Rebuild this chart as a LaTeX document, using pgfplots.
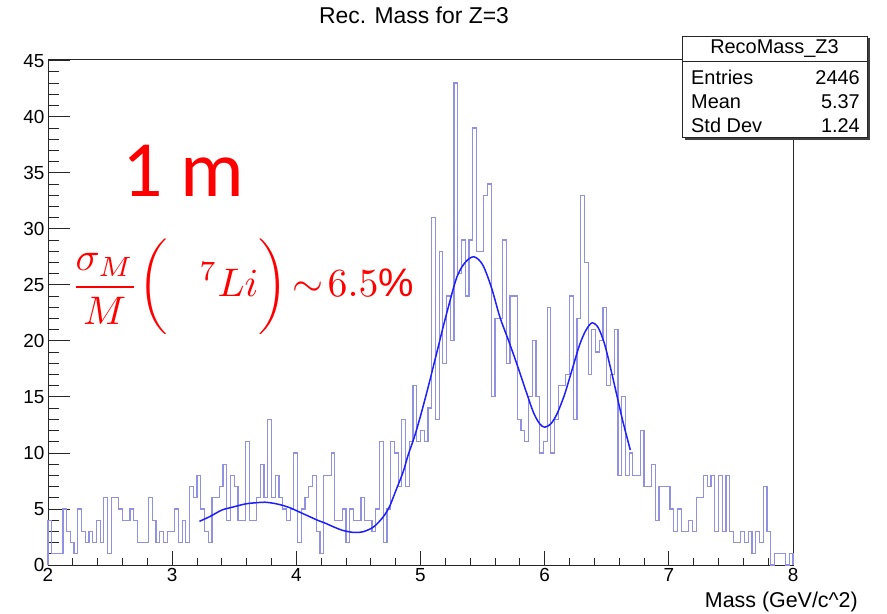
\documentclass[border=0pt]{standalone}
\usepackage{fontspec}
\setmainfont{Liberation Sans}
\newfontfamily\calib{Carlito}
\usepackage{pgfplots}
\pgfplotsset{compat=1.18}
\definecolor{histline}{RGB}{145,145,225}
\definecolor{fitblue}{RGB}{30,30,255}
\definecolor{annred}{RGB}{255,0,0}

\begin{document}
\begin{tikzpicture}[x=1bp,y=1bp]
\useasboundingbox (0,0) rectangle (887,614);
\begin{axis}[
  at={(48bp,49bp)}, anchor=south west,
  scale only axis, width=745bp, height=506bp,
  xmin=2, xmax=8, ymin=0, ymax=45.15,
  xtick={2,...,8}, ytick={0,5,...,45},
  minor x tick num=4, minor y tick num=4,
  tick align=inside, xtick pos=lower, ytick pos=lower,
  axis line style={line width=0.8bp, black!85},
  tick style={black!85, line width=0.8bp},
  major tick length=14bp, minor tick length=7bp,
  ytick style={/pgfplots/major tick length=22bp, /pgfplots/minor tick length=11bp},
  ticklabel style={font=\fontsize{19}{19}\selectfont},
  /pgf/number format/assume math mode=true,
  clip=false,
]
% histogram outline, 200 bins of 0.03 GeV/c^2
\addplot[const plot, histline, line width=1.2bp] table[row sep=\\] {
x y\\
2.00 0\\
2.00 4\\ 2.03 1\\ 2.06 1\\ 2.09 1\\ 2.12 5\\ 2.15 3\\ 2.18 2\\ 2.21 1\\ 2.24 5\\ 2.27 3\\
2.30 2\\ 2.33 3\\ 2.36 2\\ 2.39 4\\ 2.42 2\\ 2.45 6\\ 2.48 1\\ 2.51 6\\ 2.54 6\\ 2.57 5\\
2.60 4\\ 2.63 4\\ 2.66 5\\ 2.69 4\\ 2.72 2\\ 2.75 2\\ 2.78 2\\ 2.81 6\\ 2.84 4\\ 2.87 2\\
2.90 3\\ 2.93 2\\ 2.96 3\\ 2.99 3\\ 3.02 5\\ 3.05 2\\ 3.08 4\\ 3.11 2\\ 3.14 7\\ 3.17 6\\
3.20 8\\ 3.23 5\\ 3.26 3\\ 3.29 2\\ 3.32 6\\ 3.35 6\\ 3.38 7\\ 3.41 9\\ 3.44 4\\ 3.47 8\\
3.50 7\\ 3.53 4\\ 3.56 4\\ 3.59 11\\ 3.62 4\\ 3.65 4\\ 3.68 6\\ 3.71 9\\ 3.74 6\\ 3.77 13\\
3.80 6\\ 3.83 8\\ 3.86 6\\ 3.89 5\\ 3.92 4\\ 3.95 5\\ 3.98 10\\ 4.01 2\\ 4.04 5\\ 4.07 6\\
4.10 7\\ 4.13 8\\ 4.16 3\\ 4.19 1\\ 4.22 8\\ 4.25 8\\ 4.28 10\\ 4.31 4\\ 4.34 4\\ 4.37 5\\
4.40 2\\ 4.43 5\\ 4.46 4\\ 4.49 4\\ 4.52 6\\ 4.55 4\\ 4.58 4\\ 4.61 3\\ 4.64 5\\ 4.67 11\\
4.70 2\\ 4.73 5\\ 4.76 11\\ 4.79 10\\ 4.82 7\\ 4.85 13\\ 4.88 7\\ 4.91 11\\ 4.94 16\\ 4.97 11\\
5.00 12\\ 5.03 11\\ 5.06 14\\ 5.09 31\\ 5.12 13\\ 5.15 28\\ 5.18 18\\ 5.21 24\\ 5.24 20\\ 5.27 43\\
5.30 26\\ 5.33 29\\ 5.36 24\\ 5.39 29\\ 5.42 39\\ 5.45 28\\ 5.48 28\\ 5.51 33\\ 5.54 34\\ 5.57 15\\
5.60 22\\ 5.63 22\\ 5.66 29\\ 5.69 18\\ 5.72 24\\ 5.75 24\\ 5.78 13\\ 5.81 12\\ 5.84 11\\ 5.87 15\\
5.90 20\\ 5.93 15\\ 5.96 10\\ 5.99 11\\ 6.02 23\\ 6.05 10\\ 6.08 13\\ 6.11 16\\ 6.14 16\\ 6.17 17\\
6.20 24\\ 6.23 13\\ 6.26 22\\ 6.29 33\\ 6.32 27\\ 6.35 17\\ 6.38 21\\ 6.41 19\\ 6.44 20\\ 6.47 23\\
6.50 16\\ 6.53 17\\ 6.56 21\\ 6.59 8\\ 6.62 15\\ 6.65 8\\ 6.68 10\\ 6.71 8\\ 6.74 8\\ 6.77 12\\
6.80 7\\ 6.83 7\\ 6.86 9\\ 6.89 4\\ 6.92 7\\ 6.95 7\\ 6.98 7\\ 7.01 5\\ 7.04 3\\ 7.07 5\\
7.10 3\\ 7.13 3\\ 7.16 4\\ 7.19 3\\ 7.22 6\\ 7.25 6\\ 7.28 8\\ 7.31 7\\ 7.34 8\\ 7.37 3\\
7.40 8\\ 7.43 3\\ 7.46 8\\ 7.49 3\\ 7.52 2\\ 7.55 2\\ 7.58 3\\ 7.61 2\\ 7.64 3\\ 7.67 1\\
7.70 3\\ 7.73 2\\ 7.76 7\\ 7.79 3\\ 7.82 0\\ 7.85 1\\ 7.88 1\\ 7.91 1\\ 7.94 0\\ 7.97 1\\
8.00 1\\
8.00 0\\
};
% fitted function
\addplot[fitblue, line width=1.5bp, smooth] coordinates {
(3.22,3.9) (3.30,4.3) (3.40,4.9) (3.50,5.2) (3.59,5.45) (3.67,5.55) (3.75,5.6)
(3.82,5.5) (3.88,5.35) (3.95,5.1) (4.02,4.75) (4.10,4.35) (4.17,4.0) (4.24,3.7)
(4.30,3.4) (4.37,3.1) (4.43,2.95) (4.48,2.9) (4.54,2.97) (4.60,3.25) (4.64,3.56)
(4.70,4.3) (4.75,5.2) (4.80,6.6) (4.86,8.3) (4.90,9.8) (4.95,11.4) (5.00,13.3)
(5.06,15.8) (5.13,18.9) (5.20,22) (5.29,25.6) (5.36,27) (5.43,27.5) (5.50,26.8)
(5.57,24.8) (5.64,22.1) (5.71,20) (5.78,17.8) (5.85,15.5) (5.91,13.6) (5.96,12.6)
(6.00,12.3) (6.05,12.6) (6.10,13.5) (6.16,15.2) (6.22,17.4) (6.28,19.6) (6.33,20.9)
(6.38,21.6) (6.43,21.2) (6.48,19.8) (6.53,17.6) (6.58,15.2) (6.63,12.8) (6.69,10.25)
};
\end{axis}

% title and axis title
\node at (414,599) {\fontsize{23}{23}\selectfont Rec. Mass for Z=3};
\node[anchor=base east, inner sep=0] at (858,6) {\fontsize{21.5}{21.5}\selectfont Mass (GeV/c\textasciicircum 2)};

% statistics box with its shadow
\fill[black!75] (684.5,474) rectangle (869.5,576);
\draw[line width=0.8bp, draw=black!85, fill=white] (682,477) rectangle (867,578);
\draw[line width=0.8bp, black!85] (682,553) -- (867,553);
\begin{scope}[every node/.style={font=\fontsize{20}{20}\selectfont, inner sep=0}]
\node at (774.5,565) {RecoMass\_Z3};
\node[anchor=base west] at (691,529) {Entries};
\node[anchor=base east] at (860,529) {2446};
\node[anchor=base west] at (691,505) {Mean};
\node[anchor=base east] at (860,505) {5.37};
\node[anchor=base west] at (691,481) {Std Dev};
\node[anchor=base east] at (860,481) {1.24};
\end{scope}

% annotations
\node[anchor=base west, text=annred, inner sep=0, text depth=0pt] at (122,417) {\calib\fontsize{80}{80}\selectfont 1 m};
\node[anchor=base west, text=annred, inner sep=0, scale=4.0] at (70,317)
  {$\displaystyle\frac{\sigma_M}{M}\biggl(\hspace{8pt}{}^{7}Li\biggr)\!\sim\!6.5\%$};
\end{tikzpicture}
\end{document}
